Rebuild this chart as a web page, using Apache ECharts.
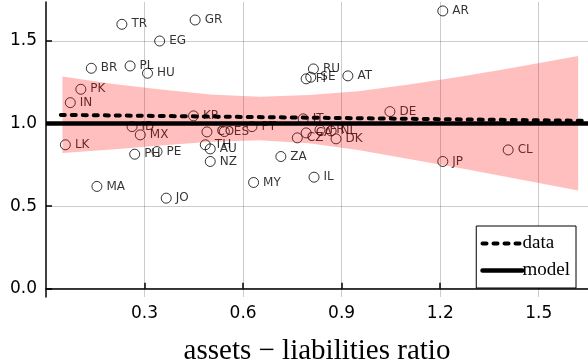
<!DOCTYPE html>
<html>
<head>
<meta charset="utf-8">
<script src="https://cdn.jsdelivr.net/npm/echarts@6/dist/echarts.min.js"></script>
<style>html,body{margin:0;padding:0;background:#fff;}#c{width:588px;height:360px;}</style>
</head>
<body>
<div id="c"></div>
<script>
// ---- data ----
const countries = ['TR','GR','EG','BR','PL','HU','PK','IN','KR','ID','MX','LK','CO','ES','PT','TH','AU','PH','PE','NZ','ZA','MA','JO','MY','IL','DE','JP','CL','AR','RU','FI','SE','AT','CZ','CA','FR','NL','DK','IT'];
const ratioX = [0.231,0.454,0.346,0.138,0.256,0.309,0.106,0.074,0.449,0.262,0.287,0.059,0.490,0.543,0.627,0.485,0.500,0.270,0.338,0.500,0.715,0.155,0.366,0.632,0.816,1.047,1.208,1.407,1.208,0.814,0.792,0.806,0.919,0.765,0.792,0.834,0.868,0.883,0.783];
const valueY = [1.600,1.626,1.499,1.334,1.348,1.304,1.207,1.126,1.046,0.981,0.931,0.871,0.949,0.951,0.981,0.871,0.846,0.814,0.830,0.770,0.800,0.619,0.548,0.643,0.675,1.072,0.770,0.840,1.681,1.330,1.270,1.280,1.288,0.913,0.943,0.961,0.955,0.907,1.028];

const bandX     = [0.05, 0.2, 0.35, 0.5, 0.65, 0.8, 0.95, 1.1, 1.25, 1.4, 1.62];
const bandUpper = [1.284,1.240,1.205,1.175,1.162,1.172,1.195,1.235,1.280,1.330,1.409];
const bandLower = [0.822,0.843,0.866,0.889,0.898,0.880,0.840,0.787,0.733,0.678,0.594];

const dataLineX = [0.045, 1.65];
const dataLineY = [1.052, 1.016];
const modelLineX = [0, 1.65];
const modelLineY = [1.0, 1.0];

const xTicks = [0.3, 0.6, 0.9, 1.2, 1.5];
const yTicks = [0.0, 0.5, 1.0, 1.5];

// ---- chart ----
const chart = echarts.init(document.getElementById('c'), null, {renderer: 'canvas'});
const scatterData = countries.map((c, i) => [ratioX[i], valueY[i], c]);
const bandData = bandX.map((x, i) => [x, bandUpper[i], bandLower[i]]);
const gridColor = 'rgba(0,0,0,0.2)';

chart.setOption({
  animation: false,
  backgroundColor: '#fff',
  grid: {left: 46, right: 0, top: 2, bottom: 63, containLabel: false, outerBoundsMode: 'none'},
  xAxis: {
    type: 'value', min: 0, max: 1.65,
    name: 'assets \u2212 liabilities ratio', nameLocation: 'middle', nameGap: 40,
    nameTextStyle: {fontFamily: 'Liberation Serif', fontSize: 29, color: '#000'},
    axisLine: {show: true, lineStyle: {color: '#000', width: 1.5}},
    axisTick: {show: true, inside: true, length: 6, customValues: xTicks, lineStyle: {color: '#000', width: 1.5}},
    axisLabel: {customValues: xTicks, formatter: v => v.toFixed(1), fontFamily: 'DejaVu Sans', fontSize: 17, color: '#000', margin: 8},
    splitLine: {show: true, lineStyle: {color: gridColor, width: 1}}
  },
  yAxis: {
    type: 'value', min: -0.05, max: 1.735,
    axisLine: {show: true, onZero: false, lineStyle: {color: '#000', width: 1.5}},
    axisTick: {show: true, inside: true, length: 6, customValues: yTicks, lineStyle: {color: '#000', width: 1.5}},
    axisLabel: {customValues: yTicks, formatter: v => v.toFixed(1), fontFamily: 'DejaVu Sans', fontSize: 17, color: '#000', margin: 9},
    splitLine: {show: true, lineStyle: {color: gridColor, width: 1}}
  },
  legend: {
    right: 12, bottom: 72,
    orient: 'vertical',
    data: [
      {name: 'data', lineStyle: {width: 4, type: [4, 7], cap: 'round', color: '#000'}},
      {name: 'model', lineStyle: {width: 4.5, type: 'solid', cap: 'round', color: '#000'}}
    ],
    backgroundColor: '#fff', borderColor: '#000', borderWidth: 1, borderRadius: 0,
    padding: [8, 6, 8, 4],
    itemWidth: 40, itemHeight: 14, itemGap: 8,
    itemStyle: {opacity: 0},
    textStyle: {fontFamily: 'Liberation Serif', fontSize: 19, color: '#000', padding: [0, 0, 0, -5]}
  },
  series: [
    {
      type: 'scatter', name: 'points', z: 2,
      data: scatterData,
      symbol: 'circle', symbolSize: 10,
      itemStyle: {color: 'rgba(0,0,0,0)', borderColor: '#000', borderWidth: 1},
      label: {show: true, position: 'right', distance: 4, formatter: p => p.data[2], fontFamily: 'DejaVu Sans', fontSize: 12, color: '#000'},
      emphasis: {disabled: true}, silent: true
    },
    {
      type: 'custom', name: 'band', z: 3, silent: true,
      data: bandData,
      encode: {x: 0, y: [1, 2]},
      renderItem: function (params, api) {
        if (params.dataIndex !== 0) return null;
        const pts = [];
        for (let i = 0; i < bandX.length; i++) pts.push(api.coord([bandX[i], bandUpper[i]]));
        for (let i = bandX.length - 1; i >= 0; i--) pts.push(api.coord([bandX[i], bandLower[i]]));
        return {type: 'polygon', shape: {points: pts}, style: {fill: 'rgba(255,0,0,0.25)'}};
      }
    },
    {
      type: 'line', name: 'data', z: 4,
      data: dataLineX.map((x, i) => [x, dataLineY[i]]),
      symbol: 'none', showSymbol: false, color: '#000',
      lineStyle: {color: '#000', width: 4, type: [4, 7], cap: 'round'},
      emphasis: {disabled: true}, silent: true
    },
    {
      type: 'line', name: 'model', z: 4,
      data: modelLineX.map((x, i) => [x, modelLineY[i]]),
      symbol: 'none', showSymbol: false, color: '#000',
      lineStyle: {color: '#000', width: 4.5, type: 'solid'},
      emphasis: {disabled: true}, silent: true
    }
  ]
});
</script>
</body>
</html>
